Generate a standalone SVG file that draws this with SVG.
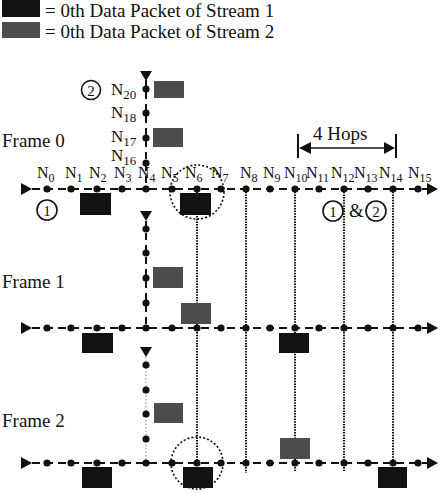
<svg xmlns="http://www.w3.org/2000/svg" width="442" height="494" viewBox="0 0 442 494">
<style>
text{font-family:"Liberation Serif","Times New Roman",serif;fill:#111}
.lbl{font-size:16px}
.sub{font-size:12px}
.vl{font-size:17px}
.vsub{font-size:13px}
.big{font-size:19px}
.leg{font-size:19px}
.dot{fill:#111}
.blk{fill:#111}
.gry{fill:#4d4d4d}
.row{stroke:#111;stroke-width:2;stroke-dasharray:8 5;fill:none}
.vdash{stroke:#111;stroke-width:2;stroke-dasharray:7 5;fill:none}
.dotted{stroke:#111;stroke-width:2;stroke-dasharray:1.5 1.2;fill:none}
.dcirc{stroke:#111;stroke-width:1.6;stroke-dasharray:2 2;fill:none}
.circ{stroke:#111;stroke-width:1.6;fill:none}
.cn{font-size:15px;text-anchor:middle}
.tri{fill:#111}
</style>
<defs>
<circle id="d" r="3.6" class="dot"/>
<path id="rt" d="M0,0 L-11,-6 L-11,6 Z" class="tri"/>
<path id="dn" d="M0,0 L-6,-10 L6,-10 Z" class="tri"/>
<path id="ah" d="M0,0 L12,-6 L12,6 Z" class="tri"/>
</defs>

<g id="legend">
<rect x="2" y="0" width="38" height="17" class="blk"/>
<text class="leg" x="45" y="17">= 0th Data Packet of Stream 1</text>
<rect x="2" y="22" width="38" height="16" class="gry"/>
<text class="leg" x="45" y="38">= 0th Data Packet of Stream 2</text>
</g>

<g id="frame-labels">
<text class="big" x="2" y="147">Frame 0</text>
<text class="big" x="2" y="288">Frame 1</text>
<text class="big" x="2" y="427">Frame 2</text>
</g>

<g id="connectors">
<line class="row" x1="32" y1="189" x2="428" y2="189"/>
<line class="row" x1="32" y1="328" x2="428" y2="328"/>
<line class="row" x1="32" y1="463" x2="428" y2="463"/>
<use href="#rt" x="32" y="189"/><use href="#rt" x="438" y="189"/>
<use href="#rt" x="32" y="328"/><use href="#rt" x="438" y="328"/>
<use href="#rt" x="32" y="463"/><use href="#rt" x="438" y="463"/>
<line class="vdash" x1="146" y1="80" x2="146" y2="189"/>
<use href="#dn" x="146" y="81"/>
<line class="vdash" x1="146" y1="221" x2="146" y2="328"/>
<use href="#dn" x="146" y="221"/>
<line stroke="#888" stroke-width="1" stroke-dasharray="1.5 2" x1="146" y1="357" x2="146" y2="463"/>
<use href="#dn" x="146" y="357"/>
<line class="dotted" x1="197" y1="189" x2="197" y2="470"/>
<line class="dotted" x1="246" y1="189" x2="246" y2="473"/>
<line class="dotted" x1="295" y1="189" x2="295" y2="471"/>
<line class="dotted" x1="344" y1="189" x2="344" y2="471"/>
<line class="dotted" x1="393" y1="189" x2="393" y2="470"/>
<circle class="dcirc" cx="197" cy="192" r="27"/>
<circle class="dcirc" cx="197" cy="463" r="26"/>
<line stroke="#111" stroke-width="2" x1="298" y1="134" x2="298" y2="158"/>
<line stroke="#111" stroke-width="2" x1="396" y1="134" x2="396" y2="158"/>
<line stroke="#111" stroke-width="1.6" x1="305" y1="148" x2="389" y2="148"/>
<use href="#ah" x="299" y="148"/>
<use href="#rt" x="395" y="148"/>
</g>

<g id="hops-label"><text class="big" x="313" y="140">4 Hops</text></g>

<g id="frame0-row">
<use href="#d" x="47" y="189"/><use href="#d" x="71" y="189"/><use href="#d" x="97" y="189"/><use href="#d" x="122" y="189"/>
<use href="#d" x="146" y="189"/><use href="#d" x="172" y="189"/><use href="#d" x="197" y="189"/><use href="#d" x="221" y="189"/>
<use href="#d" x="246" y="189"/><use href="#d" x="270" y="189"/><use href="#d" x="295" y="189"/><use href="#d" x="319" y="189"/>
<use href="#d" x="344" y="189"/><use href="#d" x="368" y="189"/><use href="#d" x="393" y="189"/><use href="#d" x="418" y="189"/>
</g>
<g id="frame0-labels">
<text class="lbl" x="37" y="178">N<tspan class="sub" dy="4">0</tspan></text>
<text class="lbl" x="65" y="178">N<tspan class="sub" dy="4">1</tspan></text>
<text class="lbl" x="89" y="178">N<tspan class="sub" dy="4">2</tspan></text>
<text class="lbl" x="114" y="178">N<tspan class="sub" dy="4">3</tspan></text>
<text class="lbl" x="138" y="178">N<tspan class="sub" dy="4">4</tspan></text>
<text class="lbl" x="161" y="178">N<tspan class="sub" dy="4">5</tspan></text>
<text class="lbl" x="185" y="178">N<tspan class="sub" dy="4">6</tspan></text>
<text class="lbl" x="211" y="178">N<tspan class="sub" dy="4">7</tspan></text>
<text class="lbl" x="240" y="178">N<tspan class="sub" dy="4">8</tspan></text>
<text class="lbl" x="263" y="178">N<tspan class="sub" dy="4">9</tspan></text>
<text class="lbl" x="284" y="178">N<tspan class="sub" dy="4">10</tspan></text>
<text class="lbl" x="306" y="178">N<tspan class="sub" dy="4">11</tspan></text>
<text class="lbl" x="331" y="178">N<tspan class="sub" dy="4">12</tspan></text>
<text class="lbl" x="354" y="178">N<tspan class="sub" dy="4">13</tspan></text>
<text class="lbl" x="379" y="178">N<tspan class="sub" dy="4">14</tspan></text>
<text class="lbl" x="408" y="178">N<tspan class="sub" dy="4">15</tspan></text>
</g>

<g id="frame0-column">
<use href="#d" x="146" y="89"/><use href="#d" x="146" y="113"/><use href="#d" x="146" y="138"/><use href="#d" x="146" y="163"/>
<text class="vl" x="111" y="95">N<tspan class="vsub" dy="4">20</tspan></text>
<text class="vl" x="111" y="118">N<tspan class="vsub" dy="4">18</tspan></text>
<text class="vl" x="111" y="142">N<tspan class="vsub" dy="4">17</tspan></text>
<text class="vl" x="111" y="161">N<tspan class="vsub" dy="4">16</tspan></text>
</g>

<g id="stream-markers">
<circle class="circ" cx="91" cy="90" r="9.5"/><text class="cn" x="91" y="95.5">2</text>
<circle class="circ" cx="47" cy="210" r="10"/><text class="cn" x="47" y="215.5">1</text>
<circle class="circ" cx="333" cy="211" r="10"/><text class="cn" x="333" y="216.5">1</text>
<text class="big" x="349" y="217">&amp;</text>
<circle class="circ" cx="376" cy="211" r="10"/><text class="cn" x="376" y="216.5">2</text>
</g>

<g id="frame1-nodes">
<use href="#d" x="47" y="328"/><use href="#d" x="71" y="328"/><use href="#d" x="97" y="328"/><use href="#d" x="122" y="328"/>
<use href="#d" x="146" y="328"/><use href="#d" x="172" y="328"/><use href="#d" x="197" y="328"/><use href="#d" x="221" y="328"/>
<use href="#d" x="246" y="328"/><use href="#d" x="270" y="328"/><use href="#d" x="295" y="328"/><use href="#d" x="319" y="328"/>
<use href="#d" x="344" y="328"/><use href="#d" x="368" y="328"/><use href="#d" x="393" y="328"/><use href="#d" x="418" y="328"/>
<use href="#d" x="146" y="229"/><use href="#d" x="146" y="253"/><use href="#d" x="146" y="278"/><use href="#d" x="146" y="303"/>
</g>

<g id="frame2-nodes">
<use href="#d" x="47" y="463"/><use href="#d" x="71" y="463"/><use href="#d" x="97" y="463"/><use href="#d" x="122" y="463"/>
<use href="#d" x="146" y="463"/><use href="#d" x="172" y="463"/><use href="#d" x="197" y="463"/><use href="#d" x="221" y="463"/>
<use href="#d" x="246" y="463"/><use href="#d" x="270" y="463"/><use href="#d" x="295" y="463"/><use href="#d" x="319" y="463"/>
<use href="#d" x="344" y="463"/><use href="#d" x="368" y="463"/><use href="#d" x="393" y="463"/><use href="#d" x="418" y="463"/>
<use href="#d" x="146" y="365"/><use href="#d" x="146" y="390"/><use href="#d" x="146" y="414"/><use href="#d" x="146" y="439"/>
</g>

<g id="packets">
<rect x="80" y="193" width="31" height="22" class="blk"/>
<rect x="180" y="193" width="31" height="22" class="blk"/>
<rect x="154" y="81" width="30" height="17" class="gry"/>
<rect x="153" y="128" width="30" height="19" class="gry"/>
<rect x="153" y="267" width="30" height="21" class="gry"/>
<rect x="181" y="303" width="30" height="21" class="gry"/>
<rect x="82" y="333" width="31" height="20" class="blk"/>
<rect x="279" y="333" width="30" height="20" class="blk"/>
<rect x="154" y="403" width="29" height="20" class="gry"/>
<rect x="82" y="467" width="30" height="21" class="blk"/>
<rect x="183" y="467" width="30" height="21" class="blk"/>
<rect x="280" y="438" width="30" height="21" class="gry"/>
<rect x="378" y="467" width="29" height="21" class="blk"/>
</g>
</svg>
